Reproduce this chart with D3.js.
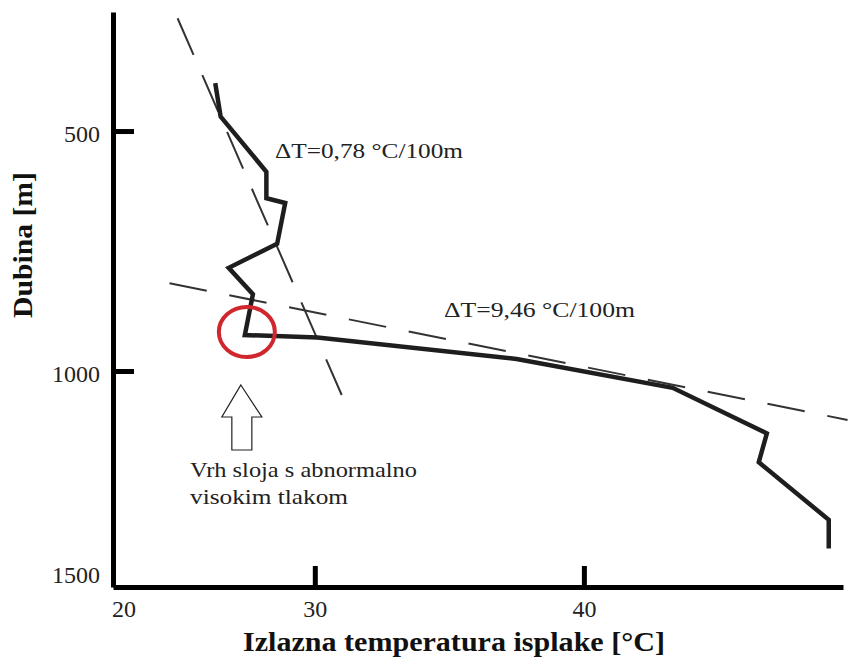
<!DOCTYPE html>
<html>
<head>
<meta charset="utf-8">
<script src="https://cdn.jsdelivr.net/npm/d3@7"></script>
<style>
body { margin: 0; background: #fff; }
svg { display: block; }
text { font-family: "Liberation Serif", "DejaVu Serif", serif; }
</style>
</head>
<body>
<div id="chart"></div>
<script>
// data
var depths = [400, 470, 585, 640, 650, 735, 785, 840, 925, 930, 975, 1035, 1130, 1190, 1310, 1370];
var temps  = [26.3, 26.5, 28.2, 28.2, 28.9, 28.6, 26.8, 27.7, 27.4, 30.1, 37.5, 43.3, 46.8, 46.5, 49.1, 49.1];

// trend lines (two end points each: temperature, depth)
var trendUpper = [[24.9, 265], [31.0, 1050]];
var trendLower = [[24.6, 817], [49.8, 1102]];

var xTicks = [30, 40];
var yTicks = [500, 1000];
var cornerX = "20", cornerY = "1500";

var labelUpper = "\u0394T=0,78 \u00b0C/100m";
var labelLower = "\u0394T=9,46 \u00b0C/100m";
var noteLines = ["Vrh sloja s abnormalno", "visokim tlakom"];
var topOfZone = [27.4, 927];

var SERIF = "Liberation Serif";
var WIDTH = 848, HEIGHT = 658;
var LEFT = 113, RIGHT = 843, TOP = 12, BOTTOM = 587;

var x = d3.scaleLinear().domain([22.5, 49.63]).range([LEFT, RIGHT]);
var y = d3.scaleLinear().domain([252, 1450]).range([TOP, BOTTOM]);

var svg = d3.select("#chart").append("svg")
    .attr("width", WIDTH)
    .attr("height", HEIGHT);

// trend lines
var trend = d3.line().x(d => x(d[0])).y(d => y(d[1]));
svg.append("path")
    .attr("d", trend(trendUpper))
    .attr("fill", "none")
    .attr("stroke", "#333")
    .attr("stroke-width", 2)
    .attr("stroke-dasharray", "40,22");
svg.append("path")
    .attr("d", trend(trendLower))
    .attr("fill", "none")
    .attr("stroke", "#333")
    .attr("stroke-width", 2)
    .attr("stroke-dasharray", "38,23");

// temperature profile
var profile = d3.line().x(d => x(d.t)).y(d => y(d.d));
var pts = depths.map((d, i) => ({d: d, t: temps[i]}));
svg.append("path")
    .attr("d", profile(pts))
    .attr("fill", "none")
    .attr("stroke", "#1e1e1e")
    .attr("stroke-width", 4.5)
    .attr("stroke-linejoin", "miter");

// red ring around top of abnormal pressure zone
svg.append("ellipse")
    .attr("cx", x(topOfZone[0]) + 2)
    .attr("cy", y(topOfZone[1]) - 4)
    .attr("rx", 28)
    .attr("ry", 25)
    .attr("fill", "none")
    .attr("stroke", "#d0262e")
    .attr("stroke-width", 4);

// hollow arrow
var ax = x(topOfZone[0]) - 4, ay = 385;
svg.append("path")
    .attr("d", "M" + ax + "," + ay +
        " L" + (ax + 21) + "," + (ay + 32) +
        " L" + (ax + 11) + "," + (ay + 32) +
        " L" + (ax + 11) + "," + (ay + 65) +
        " L" + (ax - 9) + "," + (ay + 65) +
        " L" + (ax - 9) + "," + (ay + 32) +
        " L" + (ax - 19) + "," + (ay + 32) + " Z")
    .attr("fill", "#fff")
    .attr("stroke", "#222")
    .attr("stroke-width", 1.2);

var noteWidths = [227, 158];
svg.selectAll(".note")
    .data(noteLines)
    .enter()
    .append("text")
    .attr("class", "note")
    .attr("x", 190)
    .attr("y", (d, i) => 477 + i * 27)
    .attr("font-family", SERIF)
    .attr("font-size", 21)
    .attr("fill", "#222")
    .attr("textLength", (d, i) => noteWidths[i])
    .attr("lengthAdjust", "spacingAndGlyphs")
    .text(d => d);

// annotations
svg.append("text")
    .attr("x", 275).attr("y", 158)
    .attr("font-family", SERIF)
    .attr("font-size", 22)
    .attr("fill", "#222")
    .attr("textLength", 188)
    .attr("lengthAdjust", "spacingAndGlyphs")
    .text(labelUpper);
svg.append("text")
    .attr("x", 444).attr("y", 317)
    .attr("font-family", SERIF)
    .attr("font-size", 22)
    .attr("fill", "#222")
    .attr("textLength", 191)
    .attr("lengthAdjust", "spacingAndGlyphs")
    .text(labelLower);

// axes
var xAxis = svg.append("g")
    .attr("transform", "translate(0," + BOTTOM + ")")
    .call(d3.axisBottom(x).tickValues(xTicks).tickFormat(d3.format("d"))
        .tickSize(-21).tickSizeOuter(0));
var yAxis = svg.append("g")
    .attr("transform", "translate(" + LEFT + ",0)")
    .call(d3.axisLeft(y).tickValues(yTicks).tickFormat(d3.format("d"))
        .tickSize(-21).tickSizeOuter(0).tickPadding(13));

[xAxis, yAxis].forEach(function(g) {
    g.attr("font-family", SERIF);
    g.select(".domain").attr("stroke", "#000").attr("stroke-width", 5);
    g.selectAll(".tick line").attr("stroke", "#000").attr("stroke-width", 5);
    g.selectAll(".tick text")
        .attr("font-family", SERIF)
        .attr("font-size", 24)
        .attr("fill", "#222");
});
xAxis.selectAll(".tick text").attr("y", 30).attr("dy", 0);
yAxis.selectAll(".tick text").attr("dy", "0.42em");

// corner labels
svg.append("text")
    .attr("x", 112).attr("y", 617)
    .attr("font-family", SERIF)
    .attr("font-size", 24).attr("fill", "#222")
    .text(cornerX);
svg.append("text")
    .attr("x", 100).attr("y", 583)
    .attr("text-anchor", "end")
    .attr("font-family", SERIF)
    .attr("font-size", 24).attr("fill", "#222")
    .text(cornerY);

// axis titles
svg.append("text")
    .attr("x", 243).attr("y", 651)
    .attr("font-family", SERIF)
    .attr("font-size", 27)
    .attr("font-weight", "bold")
    .attr("fill", "#111")
    .attr("textLength", 422)
    .attr("lengthAdjust", "spacingAndGlyphs")
    .text("Izlazna temperatura isplake [\u00b0C]");
svg.append("text")
    .attr("transform", "translate(32,318) rotate(-90)")
    .attr("font-family", SERIF)
    .attr("font-size", 27)
    .attr("font-weight", "bold")
    .attr("fill", "#111")
    .attr("textLength", 146)
    .attr("lengthAdjust", "spacingAndGlyphs")
    .text("Dubina [m]");
</script>
</body>
</html>
